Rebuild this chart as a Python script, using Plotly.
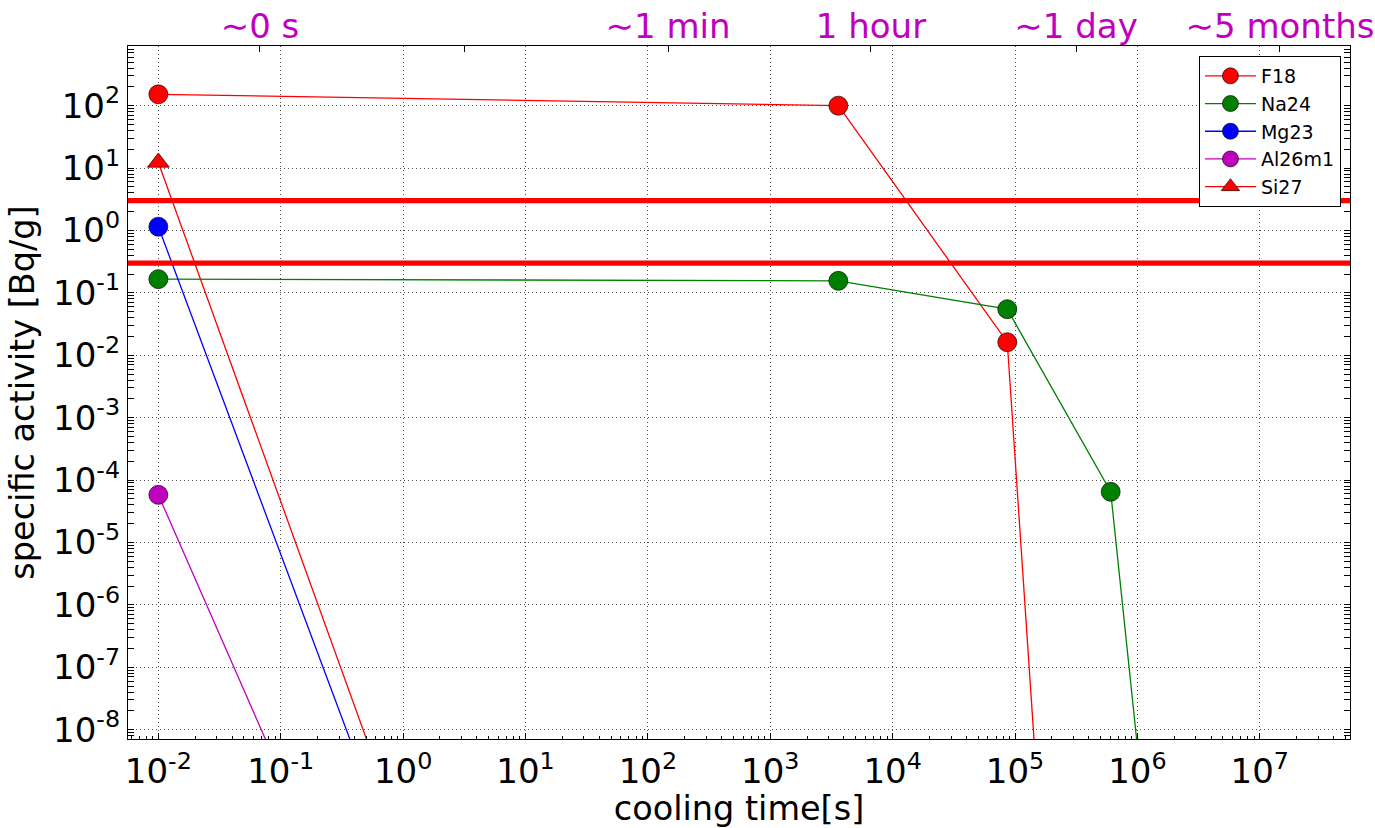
import plotly.graph_objects as go

# ---------------- data ----------------
cooling_time_s = [0.01, 3600, 86400, 604800, 12960000]
F18 = [152, 100, 0.0162, 4e-27, 8e-30]
Na24 = [0.166, 0.156, 0.0548, 6.5e-5, 8e-30]
Mg23 = [1.15, 8e-30, 8e-30, 8e-30, 8e-30]
Al26m1 = [5.8e-5, 8e-30, 8e-30, 8e-30, 8e-30]
Si27 = [12.3, 8e-30, 8e-30, 8e-30, 8e-30]

limits = [3.0, 0.3]

x_exponents = list(range(-2, 8))
y_exponents = list(range(-8, 3))
top_labels = ["\u223c0 s", "", "\u223c1 min", "1 hour", "\u223c1 day", "\u223c5 months"]
top_positions = [0.108, 0.275, 0.4419, 0.608, 0.7758, 0.9427]

# ---------------- style ----------------
FONT = "DejaVu Sans"
series = [
    ("F18", F18, "#ff0000", "circle"),
    ("Na24", Na24, "#008000", "circle"),
    ("Mg23", Mg23, "#0000ff", "circle"),
    ("Al26m1", Al26m1, "#bf00bf", "circle"),
    ("Si27", Si27, "#ff0000", "triangle-up"),
]

fig = go.Figure()
for name, vals, col, sym in series:
    fig.add_trace(go.Scatter(
        x=cooling_time_s, y=vals, name=name, mode="lines+markers",
        line=dict(color=col, width=1.3),
        marker=dict(symbol=sym, size=19, color=col,
                    line=dict(color="rgba(0,0,0,0.65)", width=1)),
        legendgroup=name,
    ))

# empty trace so the top (twin) axis is drawn
fig.add_trace(go.Scatter(x=[None], y=[None], xaxis="x2", showlegend=False,
                         hoverinfo="skip"))

for v in limits:
    fig.add_shape(type="line", xref="paper", x0=0, x1=1, yref="y",
                  y0=v, y1=v,
                  line=dict(color="#ff0000", width=5.3), layer="above")


def sup(e):
    return "10<sup>%d</sup>" % e


minor_x = [m * 10.0 ** e for e in range(-3, 8) for m in range(2, 10)]
minor_y = [m * 10.0 ** e for e in range(-9, 3) for m in range(2, 10)]

grid = dict(showgrid=True, gridcolor="rgba(0,0,0,0.7)", griddash="1px,3px",
            gridwidth=1)

fig.update_layout(
    width=1375, height=828,
    margin=dict(l=128, r=25, t=46, b=89),
    paper_bgcolor="white", plot_bgcolor="white",
    font=dict(family=FONT, color="black"),
    showlegend=True,
    legend=dict(x=0.9926, y=0.9856, xanchor="right", yanchor="top",
                bgcolor="white", bordercolor="black", borderwidth=1,
                font=dict(size=19, family=FONT),
                traceorder="grouped", tracegroupgap=0,
                itemwidth=51),
    xaxis=dict(
        type="log", range=[-2.248, 7.737],
        tickmode="array", tickvals=[10.0 ** e for e in x_exponents],
        ticktext=[sup(e) for e in x_exponents],
        ticks="inside", ticklen=6, tickcolor="black", tickwidth=1,
        tickfont=dict(size=34, family=FONT),
        showline=True, linecolor="black", linewidth=1.2, mirror=True,
        minor=dict(tickmode="array", tickvals=minor_x, ticks="inside",
                   ticklen=3, tickcolor="black", showgrid=False),
        title=dict(text="cooling time[s]", font=dict(size=33.5, family=FONT),
                   standoff=2),
        zeroline=False, automargin=False, ticklabelstandoff=2,
        **grid,
    ),
    xaxis2=dict(
        overlaying="x", side="top", range=[0, 1],
        tickmode="array", tickvals=top_positions, ticktext=top_labels,
        ticks="inside", ticklen=6, tickcolor="black",
        tickfont=dict(size=34, family=FONT, color="#bf00bf"),
        showgrid=False, zeroline=False, showline=False, automargin=False,
    ),
    yaxis=dict(
        type="log", range=[-8.149, 2.956],
        tickmode="array", tickvals=[10.0 ** e for e in y_exponents],
        ticktext=[sup(e) for e in y_exponents],
        ticks="inside", ticklen=6, tickcolor="black", tickwidth=1,
        tickfont=dict(size=34, family=FONT),
        showline=True, linecolor="black", linewidth=1.2, mirror="allticks",
        minor=dict(tickmode="array", tickvals=minor_y, ticks="inside",
                   ticklen=3, tickcolor="black", showgrid=False),
        title=dict(text="specific activity [Bq/g]",
                   font=dict(size=33.5, family=FONT), standoff=8),
        zeroline=False, automargin=False, ticklabelstandoff=0,
        **grid,
    ),
)

fig.write_html("out.html", config={"displayModeBar": False},
               post_script="document.body.style.margin='0';")
